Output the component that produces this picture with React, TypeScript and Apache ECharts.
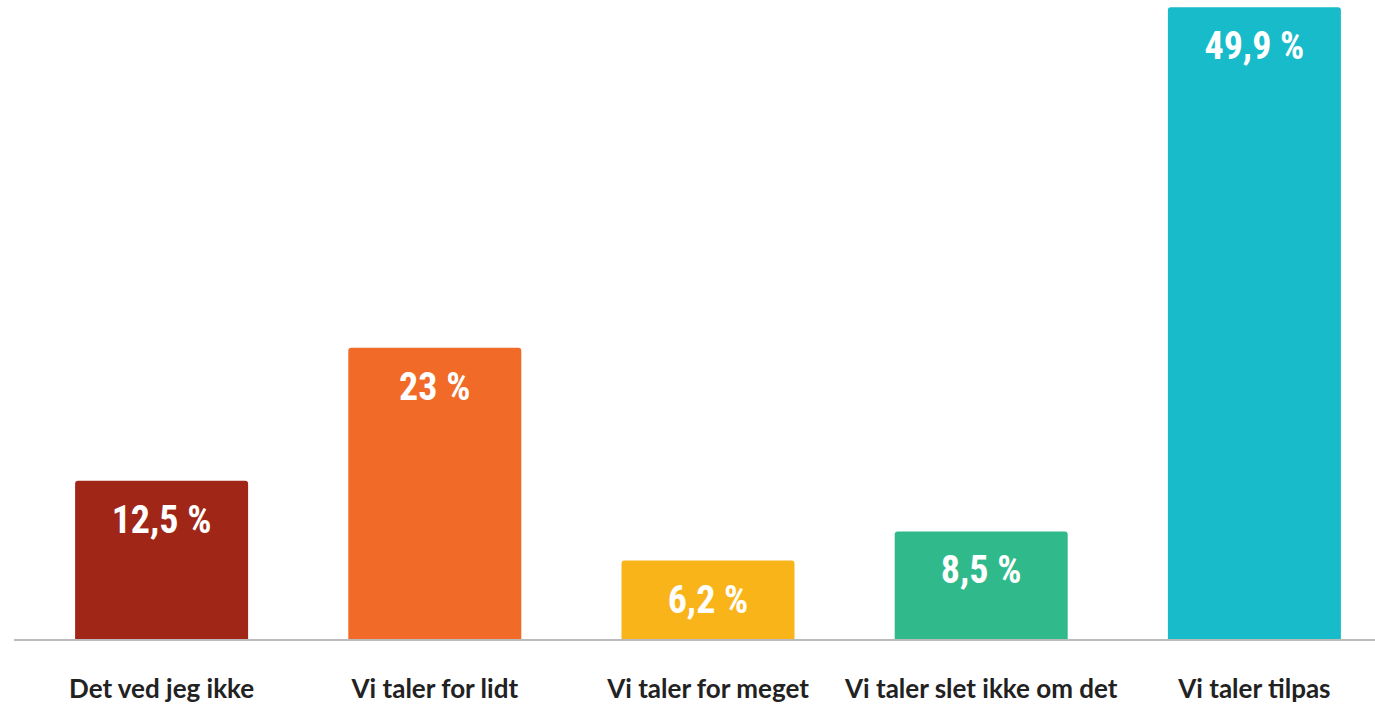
import React, { useEffect, useRef } from "react";
import * as echarts from "echarts";

const categories = [
  "Det ved jeg ikke",
  "Vi taler for lidt",
  "Vi taler for meget",
  "Vi taler slet ikke om det",
  "Vi taler tilpas",
];
const values = [12.5, 23, 6.2, 8.5, 49.9];
const colors = ["#A02617", "#F26A27", "#F9B41A", "#30BA8B", "#17BBC9"];

export default function App() {
  const ref = useRef<HTMLDivElement>(null);
  useEffect(() => {
    if (!ref.current) return;
    const chart = echarts.init(ref.current, null, { renderer: "svg" });
    chart.setOption({
      animation: false,
      grid: { left: 25, width: 1366, top: 6, bottom: 66, containLabel: false },
      xAxis: {
        type: "category",
        data: categories,
        axisLine: { show: false },
        axisTick: { show: false },
        axisLabel: {
          interval: 0,
          margin: 36,
          fontFamily: "Lato",
          fontWeight: "bold",
          fontSize: 26,
          color: "#222222",
        },
      },
      yAxis: {
        type: "value",
        min: 0,
        max: 50,
        show: false,
        splitLine: { show: false },
      },
      graphic: [
        {
          type: "line",
          shape: { x1: 14, y1: 640, x2: 1375, y2: 640 },
          style: { stroke: "#BBBBBB", lineWidth: 2 },
          z: 10,
        },
      ],
      series: [
        {
          type: "bar",
          barWidth: 173,
          data: values.map((v, i) => ({
            value: v,
            itemStyle: { color: colors[i], borderRadius: [3, 3, 0, 0] },
          })),
          label: {
            show: true,
            position: "insideTop",
            distance: 20,
            color: "#FFFFFF",
            fontFamily: "'Roboto Condensed', sans-serif",
            fontWeight: "bold",
            fontSize: 38,
            formatter: (p: any) => String(p.value).replace(".", ",") + " %",
          },
        },
      ],
    });
    return () => chart.dispose();
  }, []);
  return (
    <div style={{ position: "absolute", left: 0, top: 0, width: 1375, height: 705, overflow: "hidden" }}>
      <div ref={ref} style={{ width: 1400, height: 705 }} />
    </div>
  );
}
